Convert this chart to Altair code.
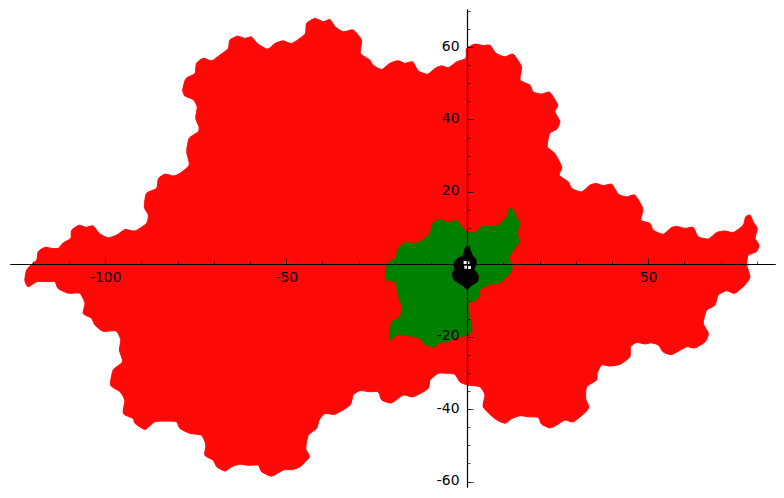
import altair as alt
import pandas as pd

red_x = [-122.2,-121.7,-120.3,-118.9,-118.5,-116.6,-114.8,-113.0,-111.6,-109.5,-109.3,-107.2,-105.3,-103.3,-101.6,-99.2,-96.8,-94.5,-91.8,-88.6,-88.1,-89.2,-88.6,-85.8,-85.3,-83.5,-81.2,-79.4,-76.8,-77.5,-76.8,-74.3,-74.1,-75.0,-74.6,-75.7,-78.0,-78.6,-77.7,-75.2,-74.8,-72.9,-70.6,-68.3,-66.0,-65.6,-63.5,-61.4,-59.6,-58.0,-55.2,-53.1,-50.8,-48.5,-44.8,-44.4,-42.1,-39.8,-37.9,-36.5,-34.2,-31.5,-29.2,-29.5,-26.9,-26.0,-23.6,-21.4,-19.1,-17.2,-15.1,-13.5,-11.0,-8.9,-7.1,-5.2,-2.9,-0.4,-0.2,2.1,4.4,6.3,7.9,10.4,12.7,15.0,14.6,17.3,18.2,20.5,22.8,25.0,24.2,25.6,24.7,22.8,22.1,24.2,26.1,25.4,27.9,28.8,31.6,33.9,35.7,37.6,39.9,41.7,44.0,46.3,48.5,48.0,50.5,51.4,54.1,56.5,58.3,60.1,62.4,63.8,66.6,68.9,71.2,73.5,76.2,76.9,78.1,79.0,80.1,79.5,80.6,79.9,77.6,77.2,78.1,76.7,73.9,71.6,69.3,68.4,66.1,65.2,66.6,65.7,62.9,60.6,56.5,54.1,52.8,50.9,49.1,46.8,45.1,44.9,42.2,39.4,37.1,35.9,35.7,33.0,32.7,33.6,32.5,29.3,27.0,24.7,22.8,20.5,19.6,16.8,14.6,12.3,10.4,7.6,4.4,4.9,3.5,0.3,-2.0,-3.4,-5.7,-8.0,-10.3,-10.8,-14.9,-17.7,-20.9,-23.6,-24.6,-26.9,-29.6,-31.5,-32.4,-36.5,-39.3,-40.9,-41.6,-43.9,-44.6,-43.6,-46.2,-48.5,-50.8,-54.0,-56.8,-57.7,-60.5,-62.8,-65.1,-66.9,-69.2,-70.2,-72.5,-72.2,-73.4,-76.6,-79.4,-80.3,-83.0,-86.3,-89.0,-91.8,-92.3,-95.0,-94.6,-95.9,-98.5,-97.8,-95.2,-96.1,-95.7,-97.0,-100.6,-102.8,-103.8,-106.1,-105.6,-107.0,-110.2,-113.0,-113.9,-116.2,-118.9,-121.3]
red_y = [-4.4,-1.6,0.0,1.2,3.5,4.7,4.4,4.4,5.9,7.2,9.4,10.8,10.2,10.6,8.5,7.3,8.1,9.6,9.2,11.3,13.6,15.8,19.6,21.0,23.7,24.9,24.4,25.1,27.4,31.1,34.8,36.6,38.0,40.3,43.5,45.5,46.5,48.1,51.3,52.7,55.5,56.9,56.2,57.8,59.6,61.9,63.0,62.4,62.8,61.0,59.4,61.0,61.7,61.0,63.6,66.5,67.9,67.0,67.6,65.6,64.2,64.7,61.9,58.3,56.4,55.0,53.8,55.5,56.2,55.5,55.9,53.4,52.5,54.1,54.8,54.3,55.9,56.9,59.6,60.8,60.4,60.5,58.3,57.3,58.0,54.5,50.9,49.5,47.6,47.0,47.5,44.0,42.1,39.4,37.3,36.2,32.5,30.6,26.9,24.6,22.8,21.0,20.0,21.9,22.3,21.7,22.1,19.4,18.6,19.1,15.4,12.2,11.3,9.4,8.3,10.2,10.4,9.9,10.2,7.6,7.0,8.8,9.2,8.8,10.8,13.1,13.6,11.7,9.9,7.2,5.3,3.5,2.5,-0.2,-3.5,-5.7,-8.0,-7.3,-8.5,-11.3,-12.7,-16.3,-19.1,-21.4,-23.1,-22.8,-24.9,-24.2,-22.3,-21.7,-22.0,-21.6,-22.8,-25.6,-27.6,-28.1,-27.8,-30.1,-32.0,-33.8,-37.0,-39.4,-41.0,-43.5,-43.0,-44.4,-45.2,-44.1,-42.3,-42.1,-41.8,-42.6,-43.9,-42.6,-39.4,-36.1,-33.8,-33.4,-32.5,-30.4,-30.1,-30.1,-32.0,-34.3,-36.6,-36.1,-38.3,-37.5,-35.2,-35.2,-34.9,-36.1,-38.9,-41.4,-41.2,-43.0,-45.3,-47.2,-50.9,-53.2,-55.9,-56.7,-56.8,-58.5,-57.3,-55.5,-55.5,-55.2,-55.9,-57.1,-55.9,-54.1,-52.7,-49.9,-47.2,-46.7,-45.3,-43.5,-43.3,-43.5,-45.6,-43.9,-42.6,-41.2,-37.5,-35.2,-33.4,-29.2,-26.9,-23.7,-20.9,-18.4,-18.5,-16.8,-14.9,-13.6,-10.8,-8.0,-8.0,-6.7,-4.8,-4.8,-4.8,-6.2]

green_x = [-22.7,-22.1,-20.0,-19.0,-17.2,-14.4,-12.6,-10.3,-9.6,-7.5,-5.2,-2.9,-1.1,0.0,2.6,4.0,6.3,8.6,10.9,11.6,12.7,13.5,14.6,13.8,14.4,12.7,11.6,12.5,11.4,8.6,6.3,3.5,3.5,2.1,0.6,0.3,1.2,1.2,0.0,-2.0,-5.7,-7.5,-9.4,-12.1,-13.0,-14.9,-17.6,-19.5,-21.3,-21.5,-20.9,-18.6,-18.1,-19.0,-20.0,-22.3]
green_y = [-3.0,0.2,1.6,4.4,6.0,5.8,6.5,8.5,11.3,12.4,11.6,12.0,9.9,8.7,9.0,10.5,10.5,10.8,13.1,15.4,15.1,13.1,11.3,8.5,6.2,3.9,1.6,-1.2,-3.0,-5.3,-5.5,-7.0,-8.5,-10.2,-10.4,-12.7,-16.8,-18.7,-19.6,-20.0,-21.4,-21.6,-23.0,-21.9,-20.5,-20.0,-19.6,-19.6,-21.0,-18.7,-15.9,-14.5,-11.7,-9.0,-4.8,-4.4]

black_x = [0.0,0.6,0.95,1.5,2.4,2.4,1.9,2.8,3.1,2.8,1.2,0.0,-1.1,-2.5,-3.7,-4.1,-3.5,-3.7,-2.7,-1.3,-0.8,-0.5]
black_y = [4.9,4.6,3.5,2.3,1.3,0.05,-1.4,-2.7,-3.6,-4.8,-5.8,-7.0,-6.0,-5.1,-4.2,-2.7,-1.2,0.2,1.6,2.3,3.5,4.6]

white_x = [-0.6,0.6,0.2,-0.4]
white_y = [0.5,-0.9,0.4,-0.8]

x_major = [-100, -50, 50]
y_major = [-60, -40, -20, 20, 40, 60]
x_minor = [-120,-110,-100,-90,-80,-70,-60,-50,-40,-30,-20,-10,10,20,30,40,50,60,70,80]
y_minor = [-60,-55,-50,-45,-40,-35,-30,-25,-20,-15,-10,-5,5,10,15,20,25,30,35,40,45,50,55,60,65,70]

W, H = 765, 478
x_dom = [-126.3, 85.0]
y_dom = [-61.5, 70.5]
x_off = -255
y_off = -308

xscale = alt.Scale(domain=x_dom, nice=False, zero=False)
yscale = alt.Scale(domain=y_dom, nice=False, zero=False)

def frame(xs, ys):
    return pd.DataFrame({"x": xs, "y": ys, "i": range(len(xs))})

common = dict(title=None, grid=False, zindex=1, domainColor="#000000", domainWidth=1.1,
              tickColor="#000000", tickWidth=0.7, labelExpr="'' + datum.value",
              labelFont="DejaVu Sans", labelFontSize=13.9, labelColor="#000000",
              labelFlush=False, labelOverlap=False)

def x_axis(values, size, labels):
    return alt.Axis(orient="top", offset=x_off, values=values, tickSize=size, labels=labels,
                    labelPadding=-23, labelBaseline="alphabetic", labelAlign="center", **common)

def y_axis(values, size, labels):
    return alt.Axis(orient="right", offset=y_off, values=values, tickSize=size, labels=labels,
                    labelPadding=-14, labelBaseline="middle", labelAlign="right", labelOffset=-1, **common)

def blob(xs, ys, color, xa, ya, width=0.6, tension=0.3):
    return alt.Chart(frame(xs, ys)).mark_line(
        interpolate="cardinal-closed", tension=tension, fill=color, stroke=color, strokeWidth=width
    ).encode(
        x=alt.X("x:Q", scale=xscale, axis=xa),
        y=alt.Y("y:Q", scale=yscale, axis=ya),
        order="i:Q",
    )

red = blob(red_x, red_y, "#ff0808", x_axis(x_minor, 3, False), y_axis(y_minor, 3, False), 1.0, 0.4)
green = blob(green_x, green_y, "#008000", x_axis(x_major, 6, True), y_axis(y_major, 6, True), 0.6, 0.5)
black = blob(black_x, black_y, "#000000", None, None, 1.0, 0.5)
white = alt.Chart(frame(white_x, white_y)).mark_square(size=9, color="#ffffff", opacity=1).encode(
    x=alt.X("x:Q", scale=xscale, axis=None),
    y=alt.Y("y:Q", scale=yscale, axis=None),
)

chart = alt.layer(red, green, black, white).resolve_axis(x="independent", y="independent").properties(
    width=W, height=H, background="#ffffff",
    padding={"left": 2, "top": 1, "right": 1, "bottom": 3},
    autosize=alt.AutoSizeParams(type="none"),
).configure_view(stroke=None)

chart.save("out.html", embed_options={"renderer": "svg", "actions": False})
